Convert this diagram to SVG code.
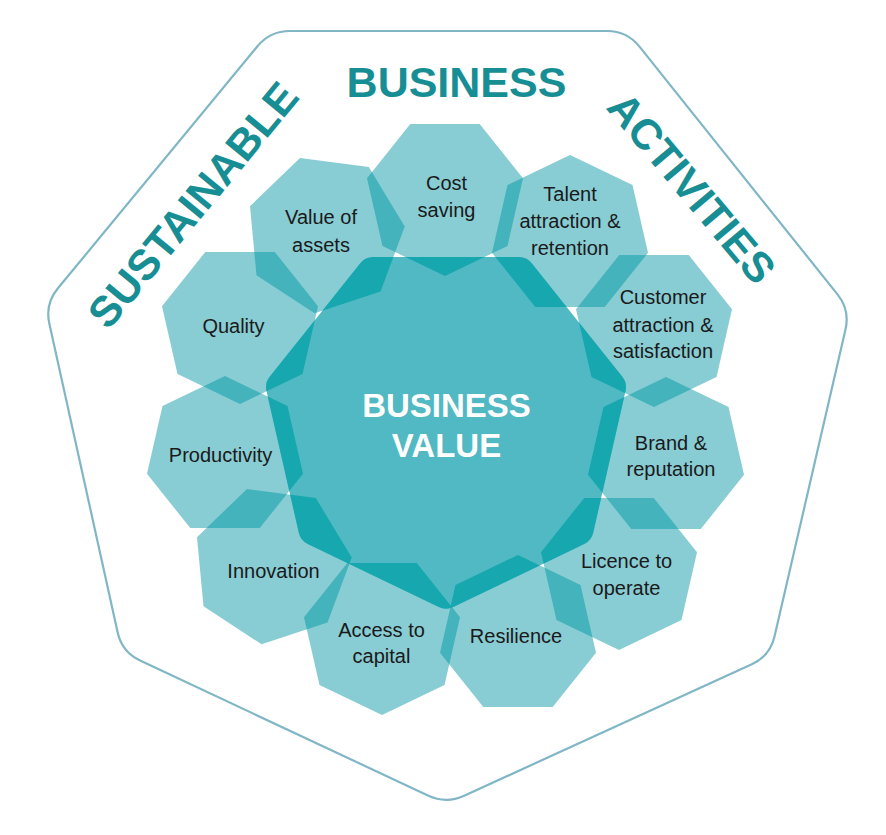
<svg xmlns="http://www.w3.org/2000/svg" xmlns:xlink="http://www.w3.org/1999/xlink" width="886" height="835" viewBox="0 0 886 835">
<style>
.frame{fill:none;stroke:#80b6c6;stroke-width:2.2}
.title{font-family:"Liberation Sans",Arial,sans-serif;font-weight:bold;fill:#178e94;text-anchor:middle}
.petal{fill:#88ccd4}
.pp{fill:#44b3bb}
.lbl{font-family:"Liberation Sans",Arial,sans-serif;font-size:20px;fill:#1a1a1a;text-anchor:middle}
.center{fill:#50b9c3}
.dark{fill:#17a7ae}
.ctext{font-family:"Liberation Sans",Arial,sans-serif;font-weight:bold;font-size:33px;fill:#ffffff;text-anchor:middle}
</style>
<defs>
<polygon id="p-value" points="314.6,313.3 256.5,275.3 250,206.2 300,158 368.8,167.1 404.7,226.5 380.5,291.6"/>
<polygon id="p-cost" points="445,276 382.5,245.9 367,178.2 410.3,123.9 479.7,123.9 523,178.2 507.5,245.9"/>
<polygon id="p-talent" points="570,155 632.5,185.1 648,252.8 604.7,307.1 535.3,307.1 492,252.8 507.5,185.1"/>
<polygon id="p-customer" points="654,407 591.5,376.9 576,309.2 619.3,254.9 688.7,254.9 732,309.2 716.5,376.9"/>
<polygon id="p-brand" points="666,377 728.5,407.1 744,474.8 700.7,529.1 631.3,529.1 588,474.8 603.5,407.1"/>
<polygon id="p-licence" points="619,650 556.5,619.9 541,552.2 584.3,497.9 653.7,497.9 697,552.2 681.5,619.9"/>
<polygon id="p-resilience" points="518,555 580.5,585.1 596,652.8 552.7,707.1 483.3,707.1 440,652.8 455.5,585.1"/>
<polygon id="p-access" points="382,715 319.5,684.9 304,617.2 347.3,562.9 416.7,562.9 460,617.2 444.5,684.9"/>
<polygon id="p-innovation" points="261.6,644.3 203.5,606.3 197,537.2 247,489 315.8,498.1 351.7,557.5 327.5,622.6"/>
<polygon id="p-productivity" points="225,376 287.5,406.1 303,473.8 259.7,528.1 190.3,528.1 147,473.8 162.5,406.1"/>
<polygon id="p-quality" points="240,404 177.5,373.9 162,306.2 205.3,251.9 274.7,251.9 318,306.2 302.5,373.9"/>
<path id="p-center" d="M438.79,607.03 L307.81,543.97 Q300.6,540.5 298.82,532.69 L266.48,390.91 Q264.7,383.1 269.69,376.84 L360.31,263.16 Q365.3,256.9 373.3,256.9 L518.7,256.9 Q526.7,256.9 531.69,263.16 L622.31,376.84 Q627.3,383.1 625.52,390.91 L593.18,532.69 Q591.4,540.5 584.19,543.97 L453.21,607.03 Q446,610.5 438.79,607.03 Z"/>
<clipPath id="c-value"><use href="#p-value"/></clipPath>
<clipPath id="c-cost"><use href="#p-cost"/></clipPath>
<clipPath id="c-talent"><use href="#p-talent"/></clipPath>
<clipPath id="c-customer"><use href="#p-customer"/></clipPath>
<clipPath id="c-brand"><use href="#p-brand"/></clipPath>
<clipPath id="c-licence"><use href="#p-licence"/></clipPath>
<clipPath id="c-resilience"><use href="#p-resilience"/></clipPath>
<clipPath id="c-access"><use href="#p-access"/></clipPath>
<clipPath id="c-innovation"><use href="#p-innovation"/></clipPath>
<clipPath id="c-productivity"><use href="#p-productivity"/></clipPath>
<clipPath id="c-quality"><use href="#p-quality"/></clipPath>
<clipPath id="c-center"><use href="#p-center"/></clipPath>
</defs>

<g id="frame">
<path class="frame" d="M290,31 L607,31 Q627,31 639.49,46.62 L837.51,294.38 Q850,310 845.49,329.49 L774.51,636.51 Q770,656 751.81,664.31 L464.19,795.69 Q446,804 427.89,795.51 L140.11,660.49 Q122,652 117.68,632.47 L49.32,323.53 Q45,304 57.72,288.57 L257.28,46.43 Q270,31 290,31 Z"/>
</g>

<g id="titles">
<text class="title" x="456.5" y="96.7" font-size="43">BUSINESS</text>
<text class="title" font-size="43" transform="translate(204.4,214.4) rotate(-50.5)" x="0" y="0">SUSTAINABLE</text>
<text class="title" font-size="42.5" transform="translate(680.5,197.5) rotate(50)" x="0" y="0">ACTIVITIES</text>
</g>

<g id="petals">
<g id="node-value"><use href="#p-value" class="petal"/><text class="lbl"><tspan x="321" y="224">Value of</tspan><tspan x="321" y="251.5">assets</tspan></text></g>
<g id="node-cost"><use href="#p-cost" class="petal"/><text class="lbl"><tspan x="446.5" y="190">Cost</tspan><tspan x="446.5" y="217">saving</tspan></text></g>
<g id="node-talent"><use href="#p-talent" class="petal"/><text class="lbl"><tspan x="570" y="201">Talent</tspan><tspan x="570" y="228">attraction &amp;</tspan><tspan x="570" y="255">retention</tspan></text></g>
<g id="node-customer"><use href="#p-customer" class="petal"/><text class="lbl"><tspan x="663" y="304">Customer</tspan><tspan x="663" y="331.5">attraction &amp;</tspan><tspan x="663" y="358">satisfaction</tspan></text></g>
<g id="node-brand"><use href="#p-brand" class="petal"/><text class="lbl"><tspan x="671" y="449.5">Brand &amp;</tspan><tspan x="671" y="476">reputation</tspan></text></g>
<g id="node-licence"><use href="#p-licence" class="petal"/><text class="lbl"><tspan x="626.5" y="567.5">Licence to</tspan><tspan x="626.5" y="595">operate</tspan></text></g>
<g id="node-resilience"><use href="#p-resilience" class="petal"/><text class="lbl" x="516" y="643">Resilience</text></g>
<g id="node-access"><use href="#p-access" class="petal"/><text class="lbl"><tspan x="381.5" y="636.5">Access to</tspan><tspan x="381.5" y="662.5">capital</tspan></text></g>
<g id="node-innovation"><use href="#p-innovation" class="petal"/><text class="lbl" x="273.5" y="578">Innovation</text></g>
<g id="node-productivity"><use href="#p-productivity" class="petal"/><text class="lbl" x="220.5" y="461.5">Productivity</text></g>
<g id="node-quality"><use href="#p-quality" class="petal"/><text class="lbl" x="233.5" y="333">Quality</text></g>
</g>

<g id="overlaps">
<use href="#p-cost" class="pp" clip-path="url(#c-value)"/>
<use href="#p-talent" class="pp" clip-path="url(#c-cost)"/>
<use href="#p-customer" class="pp" clip-path="url(#c-talent)"/>
<use href="#p-brand" class="pp" clip-path="url(#c-customer)"/>
<use href="#p-licence" class="pp" clip-path="url(#c-brand)"/>
<use href="#p-resilience" class="pp" clip-path="url(#c-licence)"/>
<use href="#p-access" class="pp" clip-path="url(#c-resilience)"/>
<use href="#p-innovation" class="pp" clip-path="url(#c-access)"/>
<use href="#p-productivity" class="pp" clip-path="url(#c-innovation)"/>
<use href="#p-quality" class="pp" clip-path="url(#c-productivity)"/>
<use href="#p-value" class="pp" clip-path="url(#c-quality)"/>
</g>

<g id="node-center">
<use href="#p-center" class="center"/>
<g class="dark" clip-path="url(#c-center)">
<use href="#p-value"/><use href="#p-cost"/><use href="#p-talent"/><use href="#p-customer"/><use href="#p-brand"/><use href="#p-licence"/><use href="#p-resilience"/><use href="#p-access"/><use href="#p-innovation"/><use href="#p-productivity"/><use href="#p-quality"/>
</g>
<text class="ctext"><tspan x="446.5" y="416.7">BUSINESS</tspan><tspan x="446.5" y="456.7">VALUE</tspan></text>
</g>
</svg>
